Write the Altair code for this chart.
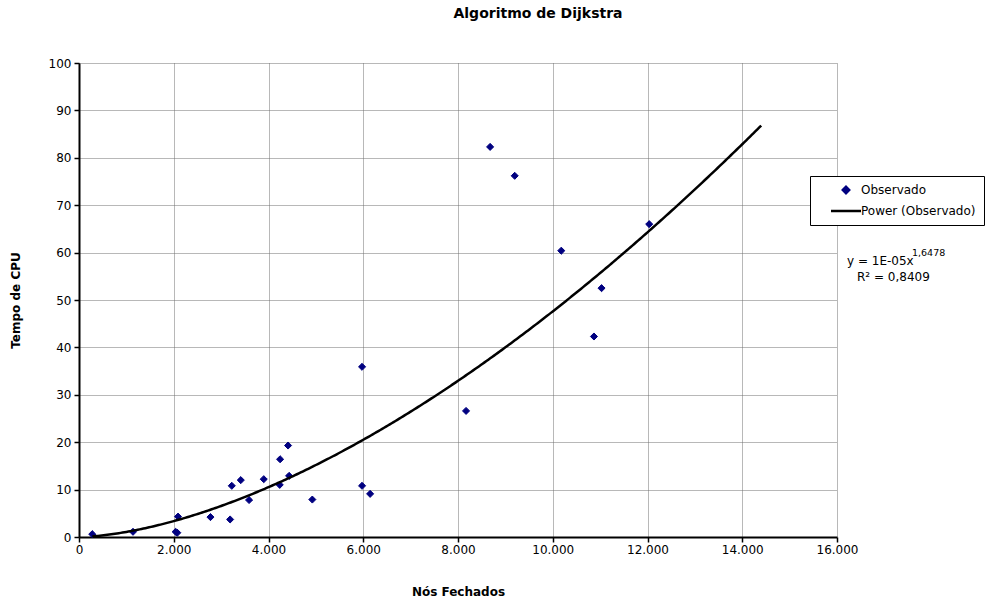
import altair as alt
import pandas as pd

# ---- data ----
nos_fechados = [280, 1140, 2040, 2075, 2090, 2775, 3190, 3225, 3415, 3590, 3900,
                4237, 4245, 4413, 4435, 4925, 5975, 5975, 6145, 8170, 8678, 9197,
                10180, 10870, 11030, 12036]
tempo_cpu = [0.6, 1.1, 1.1, 0.9, 4.3, 4.2, 3.7, 10.8, 12.0, 7.8, 12.2,
             11.0, 16.4, 19.3, 12.9, 7.9, 35.9, 10.8, 9.1, 26.6, 82.3, 76.2,
             60.4, 42.3, 52.5, 66.0]
series_names = ["Observado", "Power (Observado)"]
# fitted power trend (y = a * x^b) as drawn in the reference
trend_a = 1.22e-5
trend_b = 1.6478
trend_start, trend_stop, trend_step = 280, 14401, 40
x_ticks = [0, 2000, 4000, 6000, 8000, 10000, 12000, 14000, 16000]
y_ticks = [0, 10, 20, 30, 40, 50, 60, 70, 80, 90, 100]

title_text = "Algoritmo de Dijkstra"
x_title = "Nós Fechados"
y_title = "Tempo de CPU"
eq_main = "y = 1E-05x"
eq_sup = "1,6478"
eq_r2 = "R² = 0,8409"

FONT = "DejaVu Sans"
W, H = 758, 474
LEFT, TOP = 79, 63

df = pd.DataFrame({"nos": nos_fechados, "tempo": tempo_cpu, "serie": series_names[0]})

xscale = alt.Scale(domain=[0, 16000], nice=False)
yscale = alt.Scale(domain=[0, 100], nice=False)

xaxis = alt.Axis(values=x_ticks, title=x_title,
                 labelExpr="replace(format(datum.value, ','), ',', '.')",
                 grid=True, gridColor="#707070", gridDash=[1, 1], gridWidth=1,
                 domainColor="black", domainWidth=2, tickColor="black",
                 tickSize=5, tickWidth=1.5, labelPadding=2, titlePadding=31,
                 labelFont=FONT, labelFontSize=12, labelColor="black",
                 titleFont=FONT, titleFontSize=12, titleFontWeight="bold",
                 titleColor="black", labelFlush=False, labelOverlap=False)
yaxis = alt.Axis(values=y_ticks, title=y_title,
                 grid=True, gridColor="#707070", gridDash=[1, 1], gridWidth=1,
                 domainColor="black", domainWidth=2, tickColor="black",
                 tickSize=5, tickWidth=1.5, labelPadding=3, titlePadding=26,
                 labelFont=FONT, labelFontSize=12, labelColor="black",
                 titleFont=FONT, titleFontSize=12, titleFontWeight="bold",
                 titleColor="black", labelFlush=False, labelOverlap=False)

legend = alt.Legend(title=None, orient="none", legendX=731, legendY=113,
                    fillColor="white", strokeColor="black", padding=8,
                    labelFont=FONT, labelFontSize=12, labelColor="black",
                    symbolOffset=22, labelOffset=9, rowPadding=6, symbolSize=40,
                    symbolStrokeWidth=2.5, cornerRadius=0)

color_scale = alt.Scale(domain=series_names, range=["#000080", "#000000"])
shape_scale = alt.Scale(domain=series_names, range=["diamond", "M-4.75,0H4.75"])

points = alt.Chart(df).mark_point(filled=True, size=50, opacity=1, strokeWidth=1).encode(
    x=alt.X("nos:Q", scale=xscale, axis=xaxis),
    y=alt.Y("tempo:Q", scale=yscale, axis=yaxis),
    color=alt.Color("serie:N", scale=color_scale, legend=legend),
    stroke=alt.Stroke("serie:N", scale=color_scale, legend=legend),
    shape=alt.Shape("serie:N", scale=shape_scale, legend=legend),
)

trend = alt.Chart(
    alt.sequence(trend_start, trend_stop, trend_step, as_="nos")
).transform_calculate(
    tempo=f"{trend_a} * pow(datum.nos, {trend_b})"
).mark_line(color="black", strokeWidth=2.5).encode(
    x=alt.X("nos:Q", scale=xscale, axis=xaxis),
    y=alt.Y("tempo:Q", scale=yscale, axis=yaxis),
)

def label(text, x, y, size=12, weight="normal", align="left"):
    return alt.Chart(pd.DataFrame({"t": [text]})).mark_text(
        font=FONT, fontSize=size, fontWeight=weight, align=align,
        baseline="middle", color="black"
    ).encode(text="t:N", x=alt.value(x), y=alt.value(y))

title = label(title_text, 538 - LEFT, 14 - TOP, size=14, weight="bold", align="center")
eq1 = label(eq_main, 847 - LEFT, 261 - TOP)
eq1s = label(eq_sup, 912 - LEFT, 253 - TOP, size=9.5)
eq2 = label(eq_r2, 857 - LEFT, 277 - TOP)

chart = alt.layer(points, trend, title, eq1, eq1s, eq2).properties(
    width=W, height=H,
    autosize=alt.AutoSizeParams(type="none"),
    padding={"left": LEFT, "top": TOP, "right": 990 - LEFT - W, "bottom": 602 - TOP - H},
    background="white",
).configure_view(stroke=None)

chart.save("out.html", embed_options={"renderer": "svg", "actions": False})
